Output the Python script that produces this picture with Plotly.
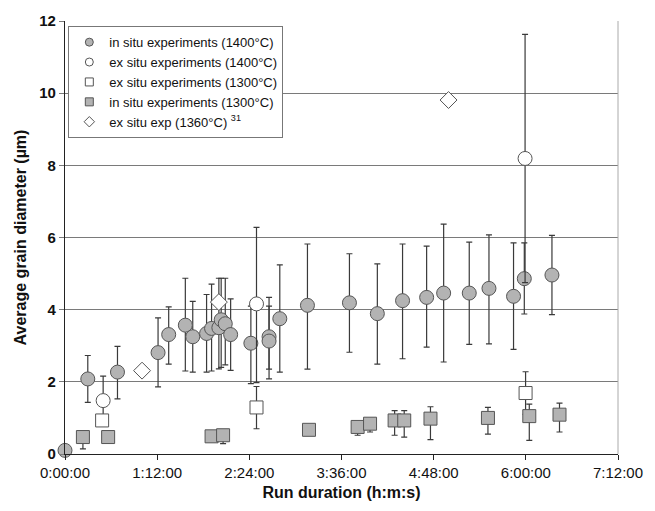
import plotly.graph_objects as go

# Run duration in minutes
tick_minutes = [0, 72, 144, 216, 288, 360, 432]
tick_labels = ["0:00:00", "1:12:00", "2:24:00", "3:36:00", "4:48:00", "6:00:00", "7:12:00"]

# in situ experiments (1400°C)
is1400_t = [0, 17.8, 41, 72.7, 81, 94, 99.8, 110.6, 114.5, 120.2, 122, 125.2, 129.4, 145.2,
            159.4, 159.4, 167.8, 189.4, 222.2, 244, 263.7, 282.5, 295.8, 315.8, 331.2, 350.4,
            358.8, 380.4]
is1400_y = [0.1, 2.08, 2.27, 2.81, 3.31, 3.57, 3.25, 3.34, 3.48, 3.50, 3.72, 3.61, 3.31, 3.07,
            3.25, 3.13, 3.75, 4.12, 4.19, 3.89, 4.25, 4.34, 4.46, 4.46, 4.59, 4.37, 4.86, 4.96]
is1400_hi = [0.1, 2.73, 2.98, 3.77, 4.08, 4.87, 4.23, 4.42, 4.71, 4.87, 4.87, 4.87, 4.30, 4.10,
             4.34, 4.10, 5.24, 5.82, 5.55, 5.27, 5.82, 5.76, 6.37, 5.87, 6.07, 5.85, 5.85, 6.06]
is1400_lo = [0.1, 1.43, 1.53, 1.86, 2.49, 2.30, 2.27, 2.27, 2.30, 2.36, 2.40, 2.47, 2.32, 1.95,
             2.35, 2.08, 2.27, 2.35, 2.82, 2.49, 2.64, 2.96, 2.55, 3.04, 3.05, 2.90, 3.88, 3.86]

# ex situ experiments (1400°C)
es1400_t = [29.8, 149.6, 359.4]
es1400_y = [1.48, 4.16, 8.19]
es1400_hi = [2.16, 6.28, 11.63]
es1400_lo = [0.80, 1.98, 4.75]

# ex situ experiments (1300°C)
es1300_t = [29, 149.6, 359.8]
es1300_y = [0.93, 1.29, 1.69]
es1300_hi = [0.93, 1.87, 2.28]
es1300_lo = [0.93, 0.70, 1.10]

# in situ experiments (1300°C)
is1300_t = [14, 33.7, 114.5, 123.5, 190.6, 228.6, 238.3, 257.5, 265, 285.5, 330.4, 362.7, 386.3]
is1300_y = [0.47, 0.47, 0.49, 0.52, 0.67, 0.75, 0.84, 0.93, 0.93, 0.98, 1.0, 1.05, 1.09]
is1300_hi = [0.47, 0.47, 0.49, 0.52, 0.67, 0.75, 0.84, 1.20, 1.20, 1.31, 1.29, 1.38, 1.41]
is1300_lo = [0.14, 0.40, 0.49, 0.29, 0.60, 0.52, 0.61, 0.52, 0.47, 0.40, 0.55, 0.38, 0.61]

# ex situ exp (1360°C) ref 31
es1360_t = [60.2, 120.2, 299.6]
es1360_y = [2.31, 4.21, 9.81]

FONT = "Arial, Liberation Sans, sans-serif"
GRAY = "#b3b3b3"
EDGE = "#555555"
ERR = "#3a3a3a"


def err(y, hi, lo):
    return dict(type="data", symmetric=False,
                array=[h - v for v, h in zip(y, hi)],
                arrayminus=[v - l for v, l in zip(y, lo)],
                color=ERR, thickness=1.2, width=3)


fig = go.Figure()

series = [
    ("in situ experiments (1400°C)", is1400_t, is1400_y, is1400_hi, is1400_lo, "circle", GRAY, 14),
    ("ex situ experiments (1400°C)", es1400_t, es1400_y, es1400_hi, es1400_lo, "circle", "white", 14),
    ("ex situ experiments (1300°C)", es1300_t, es1300_y, es1300_hi, es1300_lo, "square", "white", 13),
    ("in situ experiments (1300°C)", is1300_t, is1300_y, is1300_hi, is1300_lo, "square", GRAY, 13),
]

for name, t, y, hi, lo, sym, fill, size in series:
    fig.add_trace(go.Scatter(
        x=t, y=y, mode="markers", name=name, showlegend=False, cliponaxis=False,
        error_y=err(y, hi, lo),
        marker=dict(symbol=sym, size=size, color=fill, line=dict(color=EDGE, width=1)),
    ))

fig.add_trace(go.Scatter(
    x=es1360_t, y=es1360_y, mode="markers", name="ex situ exp (1360°C)", showlegend=False,
    cliponaxis=False,
    marker=dict(symbol="diamond", size=13, color="white", line=dict(color=EDGE, width=1)),
))

# legend entries (small markers like the original)
legend_items = [
    ("in situ experiments (1400°C)", "circle", GRAY),
    ("ex situ experiments (1400°C)", "circle", "white"),
    ("ex situ experiments (1300°C)", "square", "white"),
    ("in situ experiments (1300°C)", "square", GRAY),
    ("ex situ exp (1360°C) <sup>31</sup>", "diamond", "white"),
]
for name, sym, fill in legend_items:
    fig.add_trace(go.Scatter(
        x=[None], y=[None], mode="markers", name=name,
        marker=dict(symbol=sym, size=8, color=fill, line=dict(color=EDGE, width=1)),
    ))

fig.update_layout(
    width=655, height=511,
    margin=dict(l=64.5, r=29.3, t=15, b=57),
    paper_bgcolor="white", plot_bgcolor="white",
    font=dict(family=FONT, color="#111111"),
    legend=dict(
        x=0.006, y=0.988, xanchor="left", yanchor="top",
        bgcolor="white", bordercolor="#777777", borderwidth=1,
        font=dict(family=FONT, size=13, color="#111111"),
        itemwidth=30, tracegroupgap=0,
    ),
    xaxis=dict(
        range=[0, 432], tickvals=tick_minutes, ticktext=tick_labels,
        showgrid=False, zeroline=False,
        showline=True, linecolor="#222222", linewidth=1.2,
        ticks="outside", ticklen=5, tickcolor="#222222",
        tickfont=dict(family=FONT, size=15, color="#111111"),
        title=dict(text="<b>Run duration (h:m:s)</b>", font=dict(family=FONT, size=16), standoff=6),
    ),
    yaxis=dict(
        range=[0, 12], dtick=2, tick0=0,
        showgrid=True, gridcolor="#7a7a7a", gridwidth=1.2, zeroline=False,
        showline=True, linecolor="#222222", linewidth=1.2,
        ticks="outside", ticklen=5, tickcolor="#7a7a7a",
        tickfont=dict(family=FONT, size=15, color="#111111"),
        tickprefix="<b>", ticksuffix="</b>",
        title=dict(text="<b>Average grain diameter (µm)</b>", font=dict(family=FONT, size=16), standoff=8),
    ),
    shapes=[dict(type="line", xref="paper", yref="paper", x0=1, x1=1, y0=0, y1=1,
                 line=dict(color="#aaaaaa", width=1))],
)

fig.write_html("out.html")
